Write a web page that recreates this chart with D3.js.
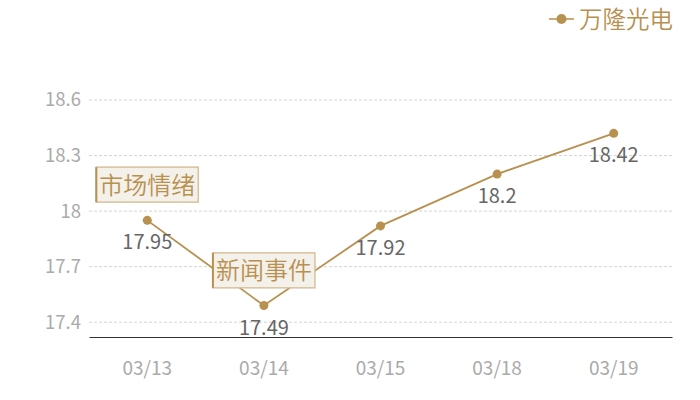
<!DOCTYPE html>
<html>
<head>
<meta charset="utf-8">
<script src="https://cdn.jsdelivr.net/npm/d3@7"></script>
<style>
  body { margin: 0; background: #fff; }
  text { font-family: "Noto Sans CJK SC", "Noto Sans", sans-serif; font-weight: 350; }
  .num { font-weight: 400; }
</style>
</head>
<body>
<div id="wrapper"></div>
<script>
const dates = ["03/13", "03/14", "03/15", "03/18", "03/19"]
const prices = [17.95, 17.49, 17.92, 18.2, 18.42]
const yTicks = [17.4, 17.7, 18, 18.3, 18.6]
const seriesName = "万隆光电"
const notes = [
  { date: "03/13", value: 18.143, text: "市场情绪" },
  { date: "03/14", value: 17.68, text: "新闻事件" }
]

const gold = "#b8904f"

const dimensions = {
  width: 700,
  height: 400,
  margin: { top: 100, right: 28, bottom: 63, left: 89 }
}
dimensions.boundedWidth = dimensions.width - dimensions.margin.left - dimensions.margin.right
dimensions.boundedHeight = dimensions.height - dimensions.margin.top - dimensions.margin.bottom

const svg = d3.select("#wrapper")
  .append("svg")
  .attr("width", dimensions.width)
  .attr("height", dimensions.height)

const bounds = svg.append("g")
  .attr("transform", `translate(${dimensions.margin.left},${dimensions.margin.top})`)

const xScale = d3.scaleBand()
  .domain(dates)
  .range([0, dimensions.boundedWidth])

const yScale = d3.scaleLinear()
  .domain([17.32, 18.6])
  .range([dimensions.boundedHeight, 0])

// gridlines
bounds.append("g")
  .selectAll("line")
  .data(yTicks)
  .enter().append("line")
    .attr("x1", 0)
    .attr("x2", dimensions.boundedWidth)
    .attr("y1", d => yScale(d))
    .attr("y2", d => yScale(d))
    .attr("stroke", "#d4d4d4")
    .attr("stroke-dasharray", "3,2")

// y axis
const yAxis = bounds.append("g")
  .call(d3.axisLeft(yScale).tickValues(yTicks).tickSize(0).tickPadding(8).tickFormat(d3.format("")))
yAxis.select(".domain").remove()
yAxis.selectAll("text")
  .attr("class", "num")
  .attr("fill", "#aaa")
  .style("font-size", "18.5px")

// x axis
const xAxis = bounds.append("g")
  .attr("transform", `translate(0,${dimensions.boundedHeight})`)
  .call(d3.axisBottom(xScale).tickSize(0).tickPadding(25))
xAxis.select(".domain").attr("stroke", "#333")
xAxis.selectAll("text")
  .attr("class", "num")
  .attr("fill", "#aaa")
  .style("font-size", "19px")

const cx = d => xScale(d) + xScale.bandwidth() / 2

// line
const line = d3.line()
  .x((d, i) => cx(dates[i]))
  .y(d => yScale(d))

bounds.append("path")
  .datum(prices)
  .attr("d", line)
  .attr("fill", "none")
  .attr("stroke", gold)
  .attr("stroke-width", 1.8)

bounds.selectAll(".dot")
  .data(prices)
  .enter().append("circle")
    .attr("class", "dot")
    .attr("cx", (d, i) => cx(dates[i]))
    .attr("cy", d => yScale(d))
    .attr("r", 4.5)
    .attr("fill", gold)

bounds.selectAll(".val")
  .data(prices)
  .enter().append("text")
    .attr("class", "val num")
    .attr("x", (d, i) => cx(dates[i]))
    .attr("y", d => yScale(d) + 29)
    .attr("text-anchor", "middle")
    .attr("fill", "#666")
    .style("font-size", "20px")
    .text(d => d)

// annotations
const noteG = bounds.selectAll(".note")
  .data(notes)
  .enter().append("g")
    .attr("class", "note")
    .attr("transform", d => `translate(${cx(d.date)},${yScale(d.value)})`)

noteG.append("rect")
  .attr("x", -51)
  .attr("y", -17.5)
  .attr("width", 102)
  .attr("height", 35)
  .attr("fill", "#f4f0ea")
  .attr("stroke", "#d8c29c")
  .attr("stroke-width", 1.5)

noteG.append("line")
  .attr("x1", -51).attr("x2", -51)
  .attr("y1", -17.5).attr("y2", 17.5)
  .attr("stroke", gold)
  .attr("stroke-width", 2)

noteG.append("text")
  .attr("text-anchor", "middle")
  .attr("y", 9)
  .attr("fill", gold)
  .style("font-size", "24px")
  .text(d => d.text)

// legend
const legend = svg.append("g")
  .attr("transform", "translate(549,19)")
legend.append("line")
  .attr("x1", 0).attr("x2", 25)
  .attr("stroke", gold)
  .attr("stroke-width", 1.5)
legend.append("circle")
  .attr("cx", 12.5)
  .attr("r", 5)
  .attr("fill", gold)
legend.append("text")
  .attr("x", 30)
  .attr("y", 8.5)
  .attr("fill", gold)
  .style("font-size", "23.5px")
  .text(seriesName)
</script>
</body>
</html>
